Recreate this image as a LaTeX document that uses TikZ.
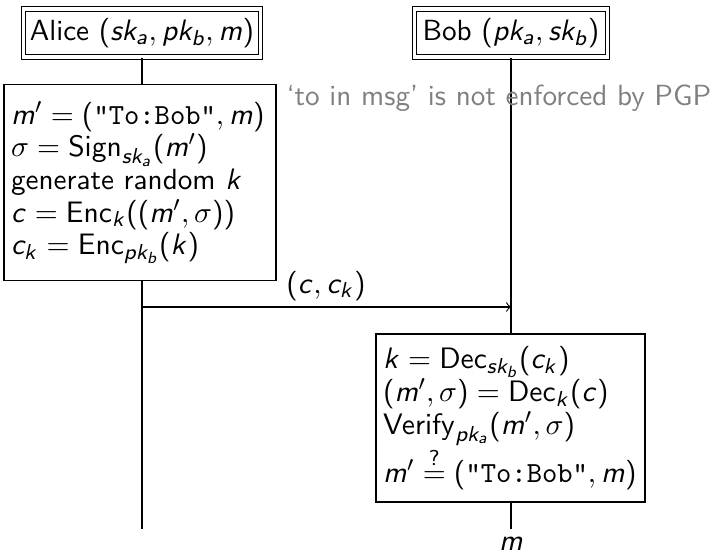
\documentclass[tikz,border=0pt]{standalone}
\renewcommand{\familydefault}{\sfdefault}
\DeclareSymbolFont{sfletters}{OT1}{cmss}{m}{sl}
\SetSymbolFont{operators}{normal}{OT1}{cmss}{m}{n}
\makeatletter
\def\sfmathletters#1{\ifx#1\relax\else\DeclareMathSymbol{#1}{\mathalpha}{sfletters}{`#1}\expandafter\sfmathletters\fi}
\sfmathletters abcdefghijklmnopqrstuvwxyz\relax
\makeatother
\DeclareMathSizes{10.8}{10.8}{7.9}{6}
\newcommand{\pxu}{0.37037pt}
\newcommand{\diagfont}{\fontsize{10.8}{12.1}\selectfont}
\tikzset{
  every node/.style={font=\diagfont},
  actor/.style={draw, double, double distance=1.2pt, inner sep=0pt, minimum height={48*\pxu}},
  actionbox/.style={draw, fill=white, align=left, inner sep={7*\pxu}},
  lifeline/.style={draw, line width=0.4pt},
  msgarrow/.style={->},
  commenttext/.style={text=black!50, anchor=base west, inner sep=0pt},
}
\begin{document}
\begin{tikzpicture}[x=0.37037pt, y=-0.37037pt]
\useasboundingbox (0,0) rectangle (712,554);
% actors
\node[actor, minimum width={237*\pxu}] (alice) at (142,33) {Alice $(sk_a, pk_b, m)$};
\node[actor, minimum width={193*\pxu}] (bob) at (511,33) {Bob $(pk_a, sk_b)$};
% lifeline ends
\coordinate (aliceend) at (142,529);
\coordinate (bobend) at (511,529);
\node[inner sep=0pt] (mout) at (511,544) {$m$};
\draw[lifeline] (alice.south) -- (aliceend);
\draw[lifeline] (bob.south) -- (bobend);
% left action
\node[actionbox, text width={258*\pxu}, minimum height={196*\pxu}] (act1) at (140,182.5) {%
$m' = (\texttt{"To:Bob"}, m)$\\
$\sigma = \mathsf{Sign}_{sk_a}(m')$\\
generate random $k$\\
$c = \mathsf{Enc}_k((m',\sigma))$\\
$c_k = \mathsf{Enc}_{pk_b}(k)$};
\node[commenttext] (comment) at (286,106) {`to in msg' is not enforced by PGP};
% message
\coordinate (msgA) at (142,307);
\coordinate (msgB) at (511,307);
\draw[msgarrow] (msgA) -- (msgB);
\node[inner sep=0pt, anchor=base] (msglabel) at (326,293) {$(c, c_k)$};
% right action
\node[actionbox, text width={255*\pxu}, minimum height={168*\pxu}] (act2) at (510.5,418) {%
$k = \mathsf{Dec}_{sk_b}(c_k)$\\
$(m',\sigma) = \mathsf{Dec}_k(c)$\\
$\mathsf{Verify}_{pk_a}(m',\sigma)$\\
$m' \stackrel{?}{=} (\texttt{"To:Bob"}, m)$};
\end{tikzpicture}
\end{document}
